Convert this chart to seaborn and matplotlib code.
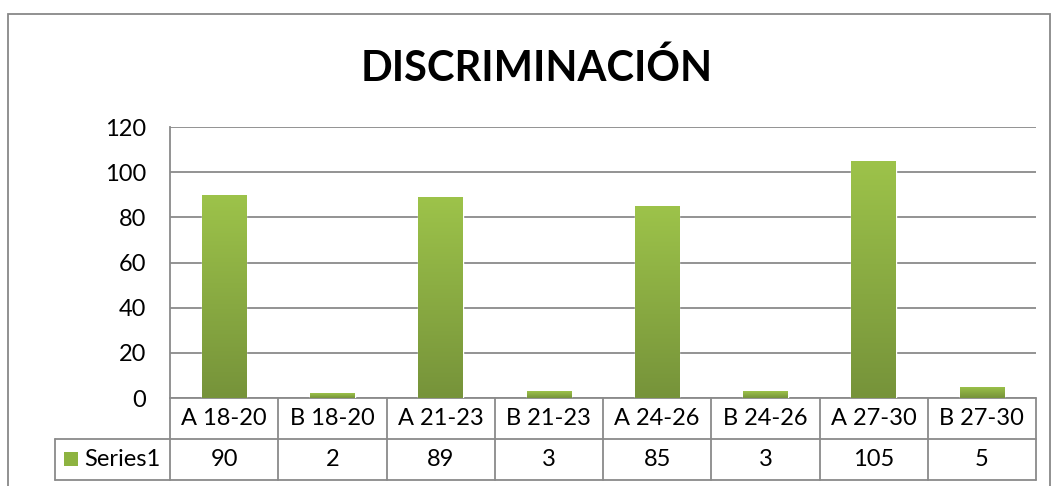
import matplotlib
matplotlib.use("Agg")
import matplotlib.pyplot as plt
import matplotlib.transforms as mtransforms
from matplotlib.colors import LinearSegmentedColormap
from matplotlib.patches import Rectangle
import numpy as np
import pandas as pd
import seaborn as sns

# data
categories = ["A 18-20", "B 18-20", "A 21-23", "B 21-23",
              "A 24-26", "B 24-26", "A 27-30", "B 27-30"]
values = [90, 2, 89, 3, 85, 3, 105, 5]
series_name = "Series1"
title = "DISCRIMINACIÓN"
yticks = [0, 20, 40, 60, 80, 100, 120]

sns.set_style("white")
plt.rcParams["font.family"] = ["Lato", "DejaVu Sans"]
plt.rcParams["text.color"] = "black"
plt.rcParams["ytick.color"] = "black"

FS = 17

W, H = 1054, 486
fig = plt.figure(figsize=(W / 100, H / 100), dpi=100)
ax = fig.add_axes([170 / W, 1 - 398 / H, (1036 - 170) / W, (398 - 127) / H])

df = pd.DataFrame({"cat": categories, "val": values})
top_c = "#9dc34a"
bot_c = "#76933a"
sns.barplot(data=df, x="cat", y="val", color=top_c, width=0.41,
            saturation=1, ax=ax, zorder=3)

# gradient fill on each bar (light top, darker bottom)
cmap = LinearSegmentedColormap.from_list("grn", [bot_c, top_c])
grad = np.linspace(0, 1, 256).reshape(-1, 1)
for p in ax.patches:
    x0, y0 = p.get_x(), p.get_y()
    w, h = p.get_width(), p.get_height()
    im = ax.imshow(grad, cmap=cmap, origin="lower", aspect="auto",
                   extent=[x0, x0 + w, y0, y0 + h], zorder=4)
    im.set_clip_path(p)

ax.set_xlim(-0.5, len(categories) - 0.5)
ax.set_ylim(0, 120)
ax.set_yticks(yticks)
ax.set_yticklabels([str(t) for t in yticks], fontsize=FS)
ax.set_xticks([])
ax.set_xlabel("")
ax.set_ylabel("")
ax.tick_params(axis="y", length=0, pad=17, colors="black")
ax.yaxis.grid(True, color="#8a8a8a", linewidth=1.3, zorder=0)
ax.set_axisbelow(True)
for s in ["top", "right", "bottom"]:
    ax.spines[s].set_visible(False)
ax.spines["left"].set_color("#8a8a8a")
ax.spines["left"].set_linewidth(1.3)

# data table under the plot
tr = mtransforms.blended_transform_factory(ax.transData, ax.transAxes)
n = len(categories)
rh = 41 / (398 - 127)
left_x = -0.5 - 115 / ((1036 - 170) / n)
lc = "#8a8a8a"
lw = 1.3
kw = dict(transform=tr, clip_on=False, color=lc, linewidth=lw)
ax.plot([-0.5, n - 0.5], [0, 0], **kw)
ax.plot([left_x, n - 0.5], [-rh, -rh], **kw)
ax.plot([left_x, n - 0.5], [-2 * rh, -2 * rh], **kw)
ax.plot([left_x, left_x], [-rh, -2 * rh], **kw)
for i in range(n + 1):
    ax.plot([i - 0.5, i - 0.5], [0, -2 * rh], **kw)
for i, (c, v) in enumerate(zip(categories, values)):
    ax.text(i, -rh / 2, c, transform=tr, ha="center", va="center", fontsize=FS)
    ax.text(i, -1.5 * rh, str(v), transform=tr, ha="center", va="center", fontsize=FS)

# legend key + series name
fig.text(84 / W, 1 - 459 / H, series_name, ha="left", va="center", fontsize=FS)
fig.patches.append(Rectangle((64 / W, 1 - 466 / H), 14 / W, 14 / H,
                             transform=fig.transFigure, facecolor="#8db340",
                             edgecolor="none"))

fig.text(537 / W, 1 - 68 / H, title, ha="center", va="center",
         fontsize=30, fontweight="bold")

# outer chart frame
fig.patches.append(Rectangle((8 / W, -0.02), (1050 - 8) / W, 1.02 - 14 / H,
                             transform=fig.transFigure, facecolor="none",
                             edgecolor="#888888", linewidth=1.3))

fig.savefig("out.png", dpi=100)
